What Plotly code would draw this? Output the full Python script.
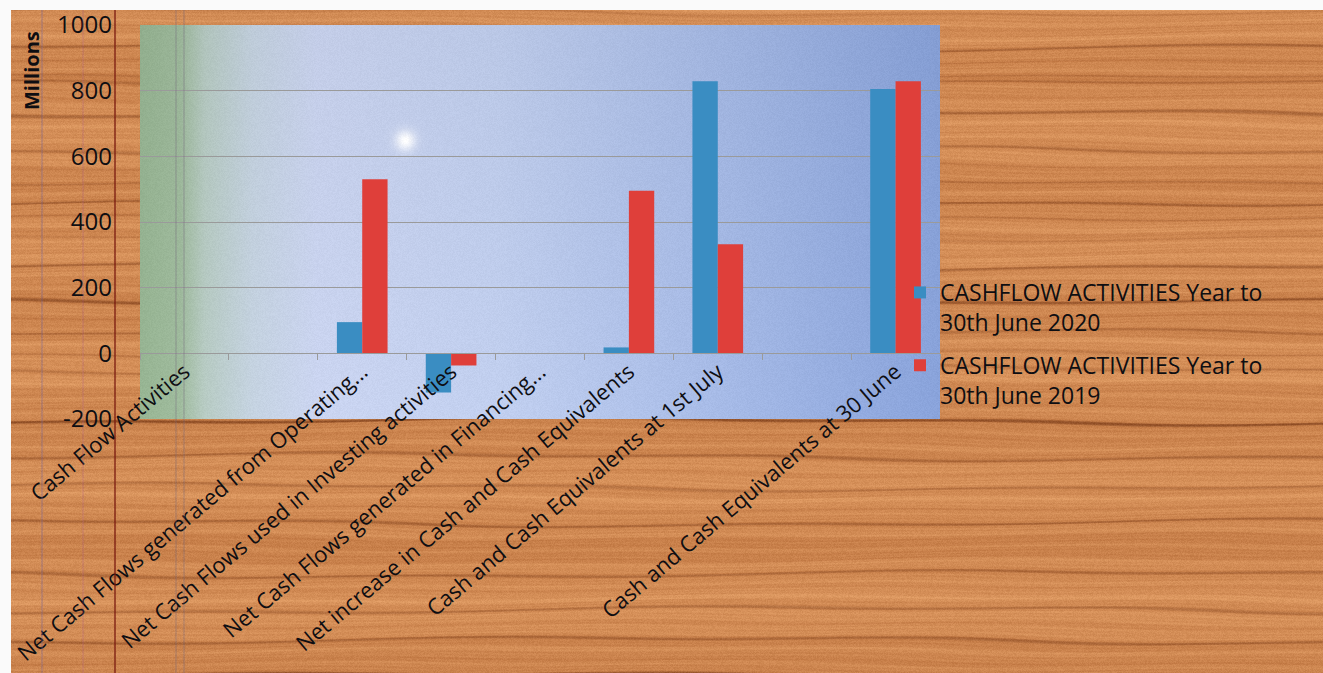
import base64
import struct
import zlib

import numpy as np
import plotly.graph_objects as go

# ---- data -------------------------------------------------------------
categories = [
    "Cash Flow Activities",
    " ",
    "Net Cash Flows generated from Operating...",
    "Net Cash Flows used in Investing activities",
    "Net Cash Flows generated in Financing...",
    "Net increase in Cash and Cash Equivalents",
    "Cash and Cash Equivalents at 1st July",
    "  ",
    "Cash and Cash Equivalents at 30 June",
]
values_2020 = [None, None, 95, -119, None, 18, 829, None, 805]
values_2019 = [None, None, 530, -37, None, 495, 332, None, 829]
series_names = [
    "CASHFLOW ACTIVITIES Year to<br>30th June 2020",
    "CASHFLOW ACTIVITIES Year to<br>30th June 2019",
]
y_ticks = [-200, 0, 200, 400, 600, 800, 1000]
y_tick_text = ["-200", "0", "200", "400", "600", "800", "1000"]

# ---- figure geometry ----------------------------------------------------
W, H = 1323, 673
X_DOM = [140 / W, 940 / W]
Y_DOM = [1 - 419 / H, 1 - 25 / H]
Y_RANGE = [-200, 1000]
FONT = "'Open Sans', Lato, sans-serif"
INK = "#0E0E12"


def png_uri(img):
    """Encode an HxWx3 uint8 array as a PNG data URI."""
    h, w, _ = img.shape
    raw = b"".join(b"\x00" + img[r].tobytes() for r in range(h))

    def chunk(tag, data):
        body = tag + data
        return struct.pack(">I", len(data)) + body + struct.pack(">I", zlib.crc32(body) & 0xFFFFFFFF)

    png = (b"\x89PNG\r\n\x1a\n"
           + chunk(b"IHDR", struct.pack(">IIBBBBB", w, h, 8, 2, 0, 0, 0))
           + chunk(b"IDAT", zlib.compress(raw, 6))
           + chunk(b"IEND", b""))
    return "data:image/png;base64," + base64.b64encode(png).decode()


def wood_texture(w, h):
    yy, xx = np.mgrid[0:h, 0:w].astype(float)
    warp = yy + 3.0 * np.sin(xx / 210 + yy / 37) + 1.6 * np.sin(xx / 73 + yy / 11)
    two_pi = 2 * np.pi
    g = (0.45 * np.sin(two_pi * warp / 17)
         + 0.30 * np.sin(two_pi * warp / 7.3 + 1.1)
         + 0.25 * np.sin(two_pi * warp / 31 + 0.5))
    broad = np.sin(two_pi * warp / 118 + 0.8)
    fine = np.sin(two_pi * warp / 3.2 + np.sin(xx / 45)) * np.sin(xx / 90 + yy / 7)
    t = np.clip(0.55 + 0.30 * g + 0.12 * broad + 0.10 * fine, 0, 1)
    light = np.array([224, 156, 100], float)
    mid = np.array([188, 114, 62], float)
    img = mid + (light - mid) * t[..., None]
    dark = np.clip((-g - 0.5) * 2.0, 0, 1) * (0.55 + 0.45 * np.clip(-broad, 0, 1))
    img -= dark[..., None] * np.array([55, 46, 32], float)
    speck = np.modf(np.abs(np.sin(xx * 12.9898 + yy * 78.233) * 43758.5453))[0]
    img += (speck[..., None] - 0.5) * 14
    img[:10, :, :] = 250
    img[:, :11, :] = 250
    return np.clip(img, 0, 255).astype(np.uint8)


def plot_fill(w, h):
    stops_x = [0.0, 0.05, 0.08, 0.14, 0.22, 0.45, 0.72, 1.0]
    stops_c = [
        (152, 182, 148), (160, 188, 158), (184, 204, 196), (198, 212, 226),
        (204, 214, 242), (194, 208, 240), (168, 188, 232), (138, 164, 220),
    ]
    xs = np.linspace(0, 1, w)
    row = np.stack([np.interp(xs, stops_x, [c[k] for c in stops_c]) for k in range(3)], axis=-1)
    ys = np.linspace(0, 1, h)[:, None, None]
    img = row[None, :, :] * (1.0 - 0.04 * (1 - ys))
    yy, xx = np.mgrid[0:h, 0:w].astype(float)
    r2 = (xx - 265) ** 2 + (yy - 115) ** 2
    glare = np.exp(-r2 / (2 * 7.0 ** 2))
    img = img + (255 - img) * glare[..., None]
    speck = np.modf(np.abs(np.sin(xx * 12.9898 + yy * 78.233) * 43758.5453))[0]
    img += (speck[..., None] - 0.5) * 8
    return np.clip(img, 0, 255).astype(np.uint8)


zero_pos = Y_DOM[0] + (0 - Y_RANGE[0]) / (Y_RANGE[1] - Y_RANGE[0]) * (Y_DOM[1] - Y_DOM[0])

fig = go.Figure()
fig.add_trace(go.Bar(x=categories, y=values_2020, name=series_names[0],
                     marker=dict(color="#3A8DC2", line=dict(width=0)), legendgroup="a"))
fig.add_trace(go.Bar(x=categories, y=values_2019, name=series_names[1],
                     marker=dict(color="#DF3F3A", line=dict(width=0)), legendgroup="b"))

fig.update_layout(
    width=W, height=H,
    margin=dict(l=0, r=0, t=0, b=0, pad=0, autoexpand=False),
    paper_bgcolor="#C07A45",
    plot_bgcolor="rgba(0,0,0,0)",
    barmode="group", bargap=0.43, bargroupgap=0.0,
    font=dict(family=FONT, color=INK),
    xaxis=dict(
        type="category", categoryorder="array", categoryarray=categories,
        domain=X_DOM, range=[-0.5, len(categories) - 0.5],
        anchor="free", position=zero_pos, automargin=False,
        showline=True, linecolor="#9A9A9A", linewidth=1,
        ticks="outside", ticklen=6, tickcolor="#9A9A9A", tickson="boundaries",
        tickangle=-40, tickfont=dict(size=22, color=INK, weight=500),
        ticklabelstandoff=-4, showgrid=False, zeroline=False,
    ),
    yaxis=dict(
        domain=Y_DOM, range=Y_RANGE, tickvals=y_ticks, ticktext=y_tick_text,
        automargin=False,
        showgrid=True, gridcolor="#9A9A9A", gridwidth=1,
        zeroline=False, showline=False, ticks="",
        tickfont=dict(size=24, color=INK, weight=500), ticklabelstandoff=27,
    ),
    legend=dict(
        x=900 / W, y=1 - 271 / H, xanchor="left", yanchor="top",
        bgcolor="rgba(0,0,0,0)", font=dict(size=23, color=INK, weight=500),
        valign="top", tracegroupgap=10, itemwidth=30,
    ),
    showlegend=True,
)

fig.add_layout_image(dict(
    source=png_uri(wood_texture(W, H)), xref="paper", yref="paper",
    x=0, y=1, sizex=1, sizey=1, sizing="stretch", xanchor="left", yanchor="top",
    layer="below",
))
fig.add_layout_image(dict(
    source=png_uri(plot_fill(800, 394)), xref="x domain", yref="y domain",
    x=0, y=1, sizex=1, sizey=1, sizing="stretch", xanchor="left", yanchor="top",
    layer="below",
))

# thin vertical page rulings running through the whole sheet
for xpix, col, wid in [(42, "rgba(120,100,150,0.55)", 1), (83, "rgba(170,90,140,0.35)", 1),
                       (115, "rgba(120,25,15,0.85)", 1.5),
                       (176, "rgba(110,100,120,0.45)", 1), (184, "rgba(110,100,120,0.45)", 1)]:
    fig.add_shape(type="line", xref="paper", yref="paper", x0=xpix / W, x1=xpix / W,
                  y0=0, y1=1 - 10 / H, line=dict(color=col, width=wid), layer="above")

fig.add_annotation(
    text="<b>Millions</b>", xref="paper", yref="paper", x=32 / W, y=1 - 71 / H,
    xanchor="center", yanchor="middle",
    textangle=-90, showarrow=False, font=dict(size=20, color=INK),
)

fig.write_html("out.html")
